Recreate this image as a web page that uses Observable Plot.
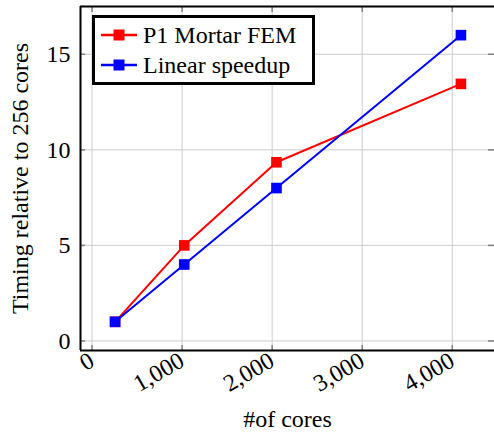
<!DOCTYPE html>
<html>
<head>
<meta charset="utf-8">
<style>
  html, body { margin: 0; padding: 0; background: white; font-family: "Liberation Serif", serif; }
  #wrap { position: relative; width: 494px; height: 436px; overflow: hidden; }
  #wrap svg, #wrap svg text { font-family: "Liberation Serif", serif; }
  #legend { position: absolute; left: 92px; top: 15px; width: 217px; height: 64px; border: 3px solid black; background: white;
    font-family: "Liberation Serif", serif; font-size: 24px; color: black; z-index: 2; }
  .row { position: absolute; left: 0; height: 30px; display: flex; align-items: center; }
  .row svg { margin-left: 6px; margin-right: 6px; }
</style>
<script src="https://cdn.jsdelivr.net/npm/d3@7"></script>
<script src="https://cdn.jsdelivr.net/npm/@observablehq/plot@0.6"></script>
</head>
<body>
<div id="wrap"><div id="legend"></div></div>
<script>
const cores = [256, 1024, 2048, 4096];
const mortar = [1, 5, 9.35, 13.45];
const linear = [1, 4, 8, 16];
const xTicks = [0, 1000, 2000, 3000, 4000];
const yTicks = [0, 5, 10, 15];
const seriesNames = ["P1 Mortar FEM", "Linear speedup"];
const colors = ["#ff0000", "#0000ff"];
const xDomain = [-128, 4480];
const yDomain = [-0.5, 17.5];

const mortarData = cores.map((c, i) => ({x: c, y: mortar[i]}));
const linearData = cores.map((c, i) => ({x: c, y: linear[i]}));

const tickStyle = {stroke: "#808080", strokeWidth: 1.5, strokeOpacity: 1};
const font = "\"Liberation Serif\", serif";

const legend = document.getElementById("legend");
seriesNames.forEach((name, i) => {
  const row = document.createElement("div");
  row.className = "row";
  row.style.top = (2 + i * 30) + "px";
  row.innerHTML = `<svg width="36" height="14" viewBox="0 0 36 14"><line x1="0" y1="7" x2="36" y2="7" stroke="${colors[i]}" stroke-width="2.5"/><rect x="12.5" y="1.5" width="11" height="11" fill="${colors[i]}"/></svg><span>${name}</span>`;
  legend.appendChild(row);
});

const chart = Plot.plot({
  width: 494,
  height: 436,
  marginLeft: 80,
  marginTop: 6,
  marginBottom: 86,
  marginRight: 0,
  x: {domain: xDomain, range: [80, 495]},
  y: {domain: yDomain},
  style: {fontFamily: font, fontSize: "24px", background: "white", color: "black", overflow: "visible"},
  marks: [
    Plot.gridX(xTicks, {stroke: "#cccccc", strokeOpacity: 1, strokeWidth: 1}),
    Plot.gridY(yTicks, {stroke: "#cccccc", strokeOpacity: 1, strokeWidth: 1}),
    Plot.axisX(xTicks, {anchor: "bottom", tickSize: -5, text: null, label: null, ...tickStyle}),
    Plot.axisX(xTicks, {anchor: "top", tickSize: -5, text: null, label: null, ...tickStyle}),
    Plot.axisY(yTicks, {anchor: "left", tickSize: -5, text: null, label: null, ...tickStyle}),
    Plot.axisY(yTicks, {anchor: "right", tickSize: -7, text: null, label: null, ...tickStyle}),
    Plot.axisX(xTicks, {anchor: "bottom", tickSize: 0, tickPadding: 8, tickRotate: -30, tickFormat: d3.format(","),
      label: "#of cores", labelAnchor: "center", labelArrow: "none", labelOffset: 76, fontSize: 24, fontFamily: font}),
    Plot.axisY(yTicks, {anchor: "left", tickSize: 0, tickPadding: 10, tickFormat: d3.format("d"),
      label: "Timing relative to 256 cores", labelAnchor: "center", labelArrow: "none", labelOffset: 70, fontSize: 24, fontFamily: font}),
    Plot.ruleX([xDomain[0]], {stroke: "black", strokeWidth: 2}),
    Plot.ruleY(yDomain, {stroke: "black", strokeWidth: 2}),
    Plot.line(mortarData, {x: "x", y: "y", stroke: colors[0], strokeWidth: 2}),
    Plot.dot(mortarData, {x: "x", y: "y", symbol: "square", r: 6, fill: colors[0], stroke: "none"}),
    Plot.line(linearData, {x: "x", y: "y", stroke: colors[1], strokeWidth: 2}),
    Plot.dot(linearData, {x: "x", y: "y", symbol: "square", r: 6, fill: colors[1], stroke: "none"})
  ]
});

// make the serif face stick on every text node, whatever renders the SVG
chart.setAttribute("font-family", font);
const inner = document.createElementNS("http://www.w3.org/2000/svg", "style");
inner.textContent = "text, tspan { font-family: \"Liberation Serif\", serif !important; }";
chart.insertBefore(inner, chart.firstChild);
chart.querySelectorAll("g").forEach(g => { if (g.hasAttribute("font-family")) g.setAttribute("font-family", font); });
chart.querySelectorAll("text").forEach(t => { t.setAttribute("font-family", font); t.style.fontFamily = font; });

const wrap = document.getElementById("wrap");
wrap.insertBefore(chart, legend);
chart.querySelectorAll("text").forEach(t => getComputedStyle(t).fontFamily);
</script>
</body>
</html>
